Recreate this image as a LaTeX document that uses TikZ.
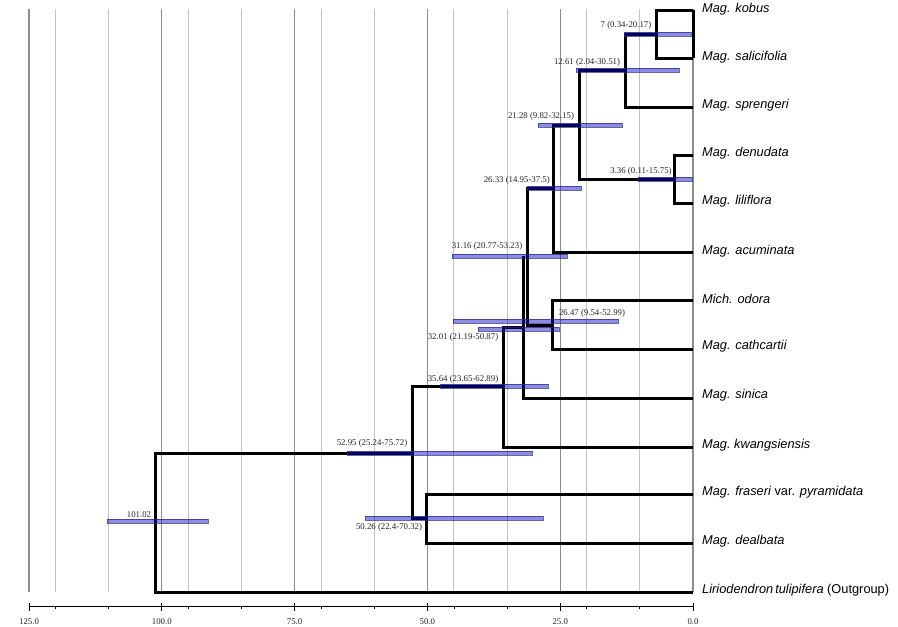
\documentclass[tikz,border=0pt]{standalone}
\usepackage{fontspec}
\setmainfont{Liberation Serif}
\newfontfamily\arialfont{Liberation Sans}
\begin{document}
\begin{tikzpicture}[x=1pt,y=-1pt,
  gridmaj/.style={draw={rgb,255:red,140;green,140;blue,140},line width=1.1pt},
  gridmin/.style={draw={rgb,255:red,195;green,195;blue,195},line width=1pt},
  br/.style={draw=black,line width=3pt},
  bar/.style={fill={rgb,255:red,0;green,0;blue,205},fill opacity=0.45,draw={rgb,255:red,40;green,40;blue,120},draw opacity=0.7,line width=0.8pt},
  age/.style={font=\fontsize{8.8}{9}\selectfont,inner sep=0pt,text=black!85},
  tip/.style={font=\arialfont\fontsize{12.8}{14}\selectfont,anchor=west,inner sep=0pt},
  axlab/.style={font=\fontsize{8.8}{9}\selectfont,inner sep=0pt,text=black!85}]
\useasboundingbox (0,0) rectangle (898,627);
\fill[white] (0,0) rectangle (898,627);
% grid lines
\foreach \a in {125,100,75,50,25,0}{\draw[gridmaj] ({693-\a*5.312},9) -- ({693-\a*5.312},592);}
\foreach \a in {120,110,95,85,70,60,45,35,20,10}{\draw[gridmin] ({693-\a*5.312},9) -- ({693-\a*5.312},592);}
% axis
\draw[line width=0.9pt] (29,606) -- (693,606);
\foreach \a/\t in {125/125.0,100/100.0,75/75.0,50/50.0,25/25.0,0/0.0}{
  \draw[line width=0.9pt] ({693-\a*5.312},603) -- ({693-\a*5.312},611);
  \node[axlab] at ({693-\a*5.312},622) {\t};}
\foreach \a in {120,110,95,85,70,60,45,35,20,10}{\draw[line width=0.8pt] ({693-\a*5.312},606) -- ({693-\a*5.312},609);}
% tip coordinates
\coordinate (tK) at (693,10);
\coordinate (tS) at (693,58);
\coordinate (tSp) at (693,107);
\coordinate (tDe) at (693,155);
\coordinate (tLi) at (693,203);
\coordinate (tAc) at (693,252);
\coordinate (tMi) at (693,300);
\coordinate (tCa) at (693,349);
\coordinate (tSi) at (693,398);
\coordinate (tKw) at (693,447);
\coordinate (tFr) at (693,494);
\coordinate (tDa) at (693,543);
\coordinate (tLr) at (693,592);
% internal coordinates
\coordinate (nA) at (656,34);
\coordinate (nB) at (625,70);
\coordinate (nC) at (579,125);
\coordinate (nD) at (674,179);
\coordinate (nE) at (553,188);
\coordinate (nF) at (527,325);
\coordinate (nG) at (552,325);
\coordinate (nH0) at (523,256);
\coordinate (nH) at (523,327);
\coordinate (nI) at (503,386);
\coordinate (nJ) at (412,386);
\coordinate (nK) at (426,518);
\coordinate (nL) at (412,453);
\coordinate (nM) at (155,522);
% branches
\draw[br] (tK) -| (nA) |- (tS);
\draw[br] (tK) -- (tS);
\draw[br] (nA) -| (nB) |- (tSp);
\draw[br] (nB) -| (nC) |- (nD);
\draw[br] (tDe) -| (nD) |- (tLi);
\draw[br] (nC) -| (nE) |- (tAc);
\draw[br] (nE) -| (nF) -- (nG);
\draw[br] (tMi) -| (nG) |- (tCa);
\draw[br] (nH0) |- (tSi);
\draw[br] (nH) -| (nI) |- (tKw);
\draw[br] (nI) -- (nJ) |- (nK);
\draw[br] (tFr) -| (nK) |- (tDa);
\draw[br] (nL) -| (nM) |- (tLr);
% HPD bars
\path[bar] (624,32) rectangle (691,36);
\path[bar] (576,68) rectangle (679,72);
\path[bar] (538,123) rectangle (622,127);
\path[bar] (638,177) rectangle (692,181);
\path[bar] (527,186) rectangle (581,190);
\path[bar] (452,254) rectangle (567,258);
\path[bar] (453,319) rectangle (618,323);
\path[bar] (478,327) rectangle (559,331);
\path[bar] (440,384) rectangle (548,388);
\path[bar] (347,451) rectangle (532,455);
\path[bar] (365,516) rectangle (543,520);
\path[bar] (107,519) rectangle (208,523);
% age labels
\node[age] (a1) at (626,25) {7 (0.34-20.17)};
\node[age] (a2) at (587,62) {12.61 (2.04-30.51)};
\node[age] (a3) at (541,116) {21.28 (9.82-32.15)};
\node[age] (a4) at (641,171) {3.36 (0.11-15.75)};
\node[age,anchor=east] (a5) at (550,180) {26.33 (14.95-37.5)};
\node[age] (a6) at (487,246) {31.16 (20.77-53.23)};
\node[age] (a7) at (592,313) {26.47 (9.54-52.99)};
\node[age] (a8) at (463,337) {32.01 (21.19-50.87)};
\node[age] (a9) at (463,379) {35.64 (23.65-62.89)};
\node[age] (a10) at (372,443) {52.95 (25.24-75.72)};
\node[age] (a11) at (389,527) {50.26 (22.4-70.32)};
\node[age] (a12) at (139,515) {101.02};
% tip labels
\node[tip] (lK) at (702,9.5) {\itshape Mag. kobus};
\node[tip] (lS) at (702,57) {\itshape Mag. salicifolia};
\node[tip] (lSp) at (702,105) {\itshape Mag. sprengeri};
\node[tip] (lDe) at (702,153) {\itshape Mag. denudata};
\node[tip] (lLi) at (702,201) {\itshape Mag. liliflora};
\node[tip] (lAc) at (702,251) {\itshape Mag. acuminata};
\node[tip] (lMi) at (702,298.5) {\itshape Mich. odora};
\node[tip] (lCa) at (702,346.5) {\itshape Mag. cathcartii};
\node[tip] (lSi) at (702,395) {\itshape Mag. sinica};
\node[tip] (lKw) at (702,445) {\itshape Mag.\ kwangsiensis};
\node[tip] (lFr) at (702,492) {\itshape Mag. fraseri\upshape\ var. \itshape pyramidata};
\node[tip] (lDa) at (702,541) {\itshape Mag. dealbata};
\node[tip] (lLr) at (702,590) {\itshape Liriodendron\hspace{0.15em}tulipifera\upshape\ (Outgroup)};
\end{tikzpicture}
\end{document}
